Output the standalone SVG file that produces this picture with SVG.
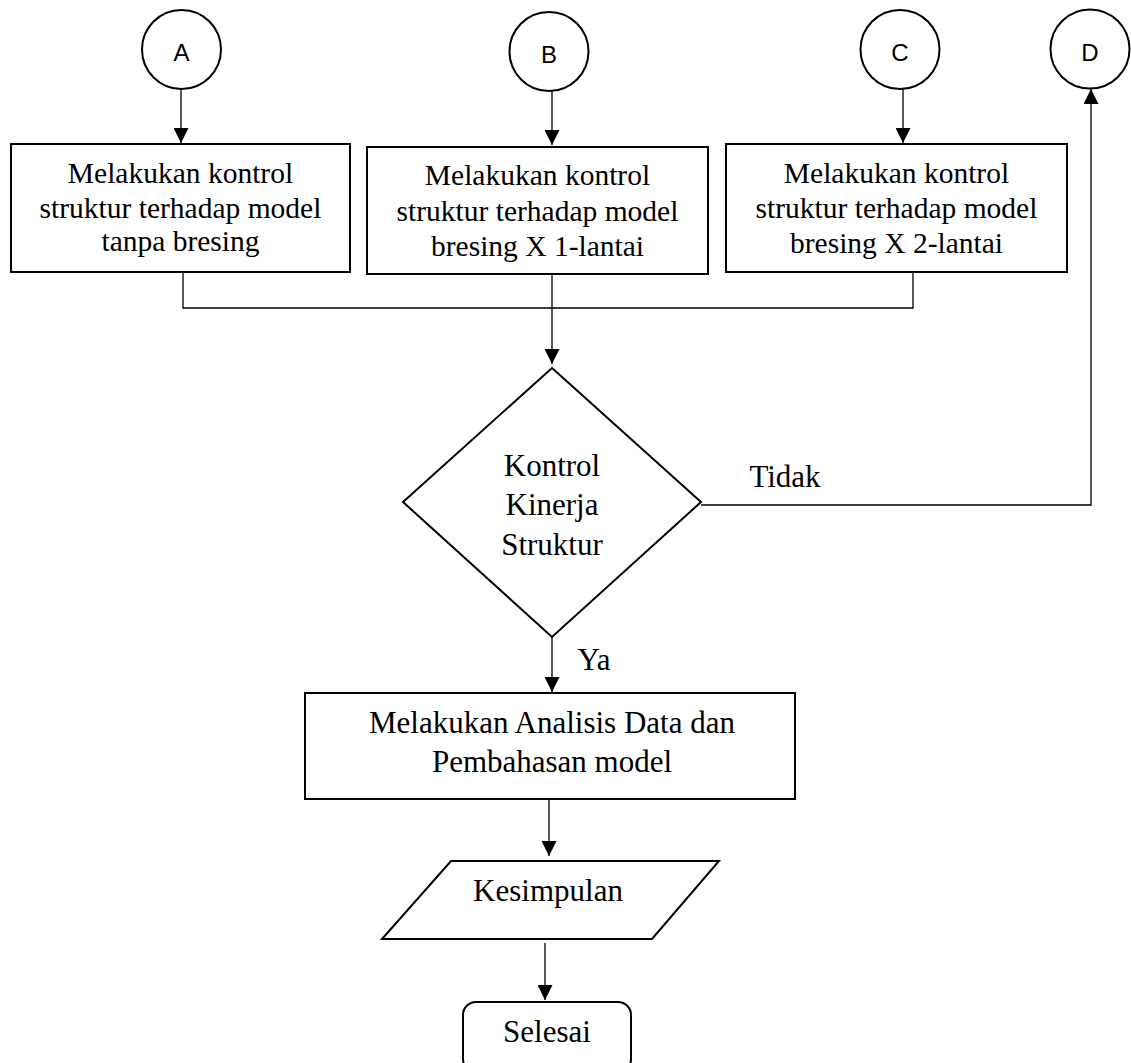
<svg xmlns="http://www.w3.org/2000/svg" width="1131" height="1063" viewBox="0 0 1131 1063">
<style>
.shape{fill:#fff;stroke:#000;stroke-width:2}
.conn{fill:none;stroke:#000;stroke-width:1.3}
.t{font-family:"Liberation Serif","Times New Roman",serif;fill:#000;text-anchor:middle}
.tb{font-size:29.5px}
.tl{font-size:31px}
.c{font-family:"Liberation Sans",Arial,sans-serif;font-size:24px;fill:#000;text-anchor:middle}
</style>
<defs>
<marker id="ah" markerWidth="15" markerHeight="15" refX="15" refY="7.5" orient="auto" markerUnits="userSpaceOnUse">
<path d="M0,0 L15,7.5 L0,15 z" fill="#000"/>
</marker>
</defs>
<rect width="1131" height="1063" fill="#fff"/>

<g id="connectors">
<line class="conn" x1="181" y1="90" x2="181" y2="143" marker-end="url(#ah)"/>
<line class="conn" x1="552" y1="91" x2="552" y2="145" marker-end="url(#ah)"/>
<line class="conn" x1="903" y1="89" x2="903" y2="143" marker-end="url(#ah)"/>
<polyline class="conn" points="183,272 183,308 913,308 913,272"/>
<line class="conn" x1="552" y1="274" x2="552" y2="364" marker-end="url(#ah)"/>
<polyline class="conn" points="701,505 1091,505 1091,89" marker-end="url(#ah)"/>
<line class="conn" x1="552" y1="637" x2="552" y2="692" marker-end="url(#ah)"/>
<line class="conn" x1="549" y1="799" x2="549" y2="856" marker-end="url(#ah)"/>
<line class="conn" x1="545" y1="943" x2="545" y2="1000" marker-end="url(#ah)"/>
<text class="t tl" x="785" y="487">Tidak</text>
<text class="t tl" x="594" y="670">Ya</text>
</g>

<g id="nodeA">
<circle class="shape" cx="181.5" cy="49.5" r="39.5"/>
<text class="c" x="181.5" y="61">A</text>
</g>
<g id="nodeB">
<circle class="shape" cx="549" cy="51.5" r="39.5"/>
<text class="c" x="549" y="63">B</text>
</g>
<g id="nodeC">
<circle class="shape" cx="900" cy="49.5" r="39.5"/>
<text class="c" x="900" y="61">C</text>
</g>
<g id="nodeD">
<circle class="shape" cx="1090" cy="49" r="39.5"/>
<text class="c" x="1090" y="60.5">D</text>
</g>

<g id="box1">
<rect class="shape" x="11" y="144" width="339" height="128"/>
<text class="t tb" x="180.5" y="183">Melakukan kontrol</text>
<text class="t tb" x="180.5" y="218">struktur terhadap model</text>
<text class="t tb" x="180.5" y="251">tanpa bresing</text>
</g>
<g id="box2">
<rect class="shape" x="367" y="147" width="341" height="127"/>
<text class="t tb" x="537.5" y="185">Melakukan kontrol</text>
<text class="t tb" x="537.5" y="221">struktur terhadap model</text>
<text class="t tb" x="537.5" y="256">bresing X 1-lantai</text>
</g>
<g id="box3">
<rect class="shape" x="726" y="144" width="341" height="128"/>
<text class="t tb" x="896.5" y="183">Melakukan kontrol</text>
<text class="t tb" x="896.5" y="218">struktur terhadap model</text>
<text class="t tb" x="896.5" y="253">bresing X 2-lantai</text>
</g>

<g id="decision">
<polygon class="shape" points="552,368 701,502 552,637 403,502"/>
<text class="t tl" x="552" y="476">Kontrol</text>
<text class="t tl" x="552" y="515">Kinerja</text>
<text class="t tl" x="552" y="555">Struktur</text>
</g>

<g id="analysis">
<rect class="shape" x="305" y="693" width="490" height="106"/>
<text class="t tl" x="552" y="733">Melakukan Analisis Data dan</text>
<text class="t tl" x="552" y="772">Pembahasan model</text>
</g>

<g id="conclusion">
<polygon class="shape" points="451,861 719,861 652,939 382,939"/>
<text class="t tl" x="548" y="901">Kesimpulan</text>
</g>

<g id="end">
<rect class="shape" x="463" y="1002" width="168" height="70" rx="13" ry="13"/>
<text class="t tl" x="547" y="1042">Selesai</text>
</g>
</svg>
